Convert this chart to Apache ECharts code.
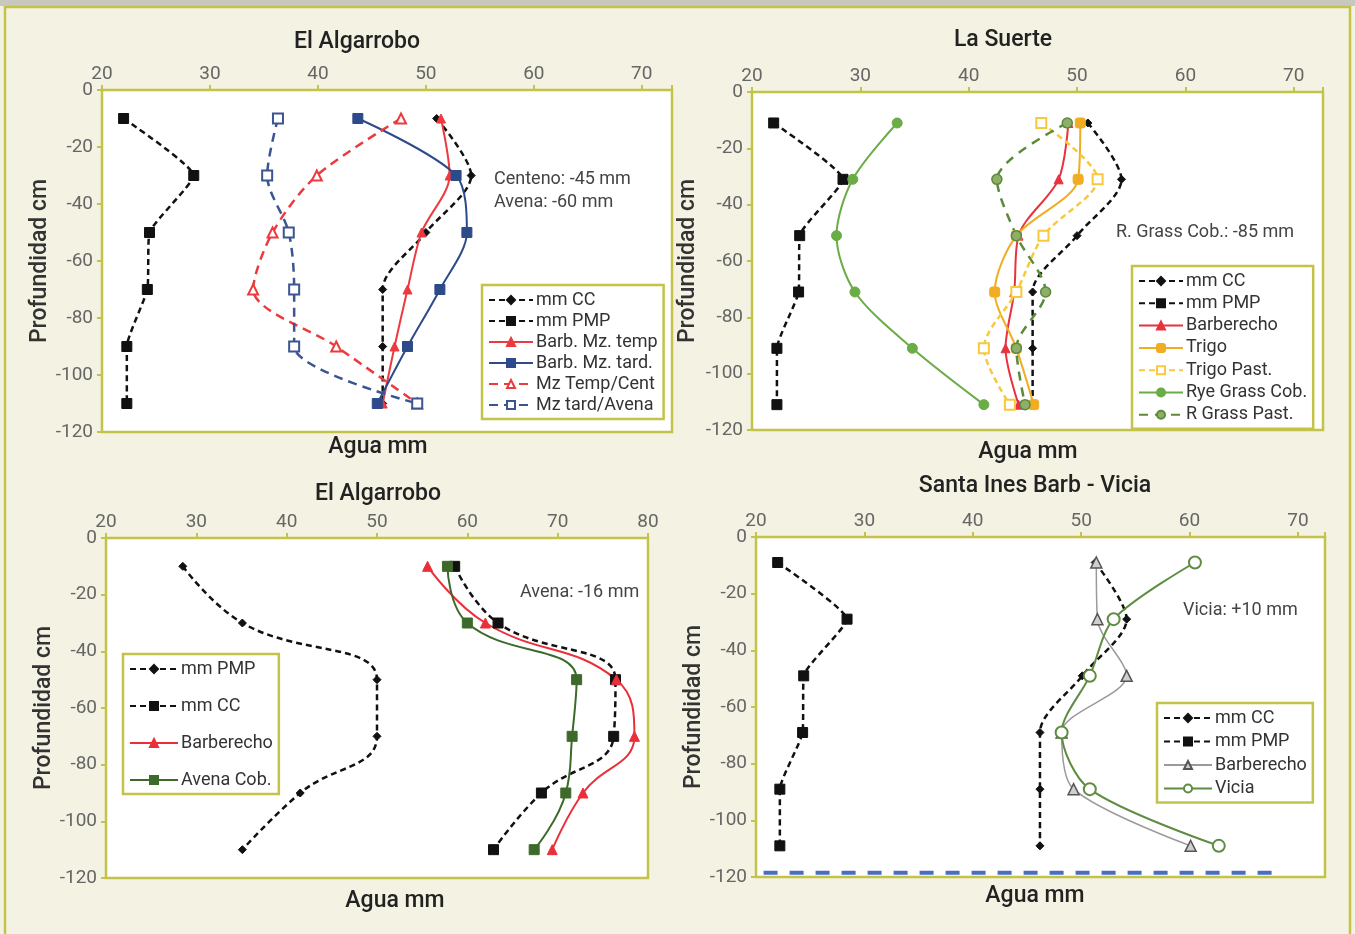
<!DOCTYPE html>
<html>
<head>
<meta charset="utf-8">
<script src="https://cdn.jsdelivr.net/npm/echarts@6/dist/echarts.min.js"></script>
<style>html,body{margin:0;padding:0;background:#f4f2e2;}#c{width:1355px;height:934px;}</style>
</head>
<body>
<div id="c"></div>
<script>
// ---------- DATA ----------
const depths1 = [-10, -30, -50, -70, -90, -110];
const depths2 = [-11, -31, -51, -71, -91, -111];
const depths3 = [-10, -30, -50, -70, -90, -110];
const depths4 = [-9, -29, -49, -69, -89, -109];
const xTicks = [20, 30, 40, 50, 60, 70, 80];
const yTicks = [0, -20, -40, -60, -80, -100, -120];

// Panel 1: El Algarrobo
const p1_cc        = [51.0, 54.2, 50.0, 46.0, 46.0, 46.0];
const p1_pmp       = [22.0, 28.5, 24.4, 24.2, 22.3, 22.3];
const p1_barbTemp  = [51.4, 52.2, 49.6, 48.3, 47.1, 46.0];
const p1_barbTard  = [43.7, 52.8, 53.8, 51.3, 48.3, 45.5];
const p1_mzTempCent= [47.7, 39.9, 35.8, 34.0, 41.7, 49.2];
const p1_mzTardAv  = [36.3, 35.3, 37.3, 37.8, 37.8, 49.2];

// Panel 2: La Suerte
const p2_cc        = [51.0, 54.1, 50.0, 45.9, 45.9, 45.9];
const p2_pmp       = [22.0, 28.4, 24.4, 24.3, 22.3, 22.3];
const p2_barb      = [49.2, 48.3, 44.6, 44.2, 43.4, 44.6];
const p2_trigo     = [50.3, 50.1, 44.4, 42.4, 44.4, 46.0];
const p2_trigoPast = [46.7, 51.9, 46.9, 44.4, 41.4, 43.8];
const p2_ryeCob    = [33.4, 29.3, 27.8, 29.5, 34.8, 41.4];
const p2_rgPast    = [49.1, 42.6, 44.4, 47.1, 44.4, 45.2];

// Panel 3: El Algarrobo
const p3_pmp       = [28.5, 35.1, 50.0, 50.0, 41.5, 35.1];
const p3_cc        = [58.6, 63.4, 76.4, 76.2, 68.2, 62.9];
const p3_barb      = [55.6, 62.0, 76.5, 78.5, 72.8, 69.4];
const p3_avena     = [57.8, 60.0, 72.1, 71.6, 70.9, 67.4];

// Panel 4: Santa Ines Barb - Vicia
const p4_cc        = [51.3, 54.2, 50.1, 46.2, 46.2, 46.2];
const p4_pmp       = [22.0, 28.4, 24.4, 24.3, 22.2, 22.2];
const p4_barb      = [51.4, 51.5, 54.2, 48.2, 49.3, 60.1];
const p4_vicia     = [60.5, 53.0, 50.8, 48.2, 50.8, 62.7];
const p4_lineX     = [20.7, 68.6];
const p4_lineY     = [-118.5, -118.5];

// ---------- STYLE ----------
const OLIVE = '#c3c34a';
const FONT = 'Roboto, "Noto Sans", sans-serif';
const grids = [
  {left:102, top:90,  width:570, height:342},
  {left:752, top:92,  width:571, height:338},
  {left:106, top:538, width:542, height:340},
  {left:756, top:537, width:569, height:340}
];
const xMax = [72.8, 72.7, 80, 72.5];
const nameGaps = [49, 52, 48, 45];

function pairs(xs, ys){ return xs.map((v,i)=>[v, ys[i]]); }

const xAxes = grids.map((g,i)=>({
  type:'value', gridIndex:i, position:'top', min:xTicks[0], max:xMax[i], interval:10,
  axisLine:{show:true, onZero:false, lineStyle:{color:OLIVE, width:2}},
  axisTick:{show:true, length:5, lineStyle:{color:OLIVE, width:2}},
  splitLine:{show:false},
  axisLabel:{color:'#666', fontSize:19, fontFamily:FONT, margin:6,
    formatter:v=> xTicks.indexOf(v)>=0 ? String(v) : ''}
}));
const yAxes = grids.map((g,i)=>({
  type:'value', gridIndex:i, min:yTicks[yTicks.length-1], max:yTicks[0], interval:20,
  axisLine:{show:true, onZero:false, lineStyle:{color:OLIVE, width:2}},
  axisTick:{show:true, length:5, lineStyle:{color:OLIVE, width:2}},
  splitLine:{show:false},
  axisLabel:{color:'#666', fontSize:19, fontFamily:FONT, margin:9},
  name:'Profundidad cm', nameLocation:'middle', nameRotate:90, nameGap:nameGaps[i],
  nameTextStyle:{color:'#333', fontSize:23, fontWeight:500, fontFamily:FONT}
}));

function S(name, xs, ys, gi, o){
  return {
    type:'line', name:name, xAxisIndex:gi, yAxisIndex:gi,
    data:pairs(xs, ys), smooth:o.smooth===undefined?0.3:o.smooth,
    symbol:o.symbol||'none', symbolSize:o.size||8, showSymbol:!!o.symbol,
    lineStyle:{color:o.color, width:o.width||2, type:o.dash||'solid'},
    itemStyle:{color:o.fill||o.color, borderColor:o.border||o.color, borderWidth:o.bw||1},
    z:o.z||2, animation:false, silent:true
  };
}
const dashB = [6,4];
const series = [
  // panel 1
  S('mm CC#1', p1_cc, depths1, 0, {color:'#111', dash:dashB, width:2.5, symbol:'diamond', size:8}),
  S('mm PMP#1', p1_pmp, depths1, 0, {color:'#111', dash:dashB, width:2.5, symbol:'rect', size:10, smooth:0.15}),
  S('Barb. Mz. temp#1', p1_barbTemp, depths1, 0, {color:'#ec3a3f', symbol:'triangle', size:9}),
  S('Barb. Mz. tard.#1', p1_barbTard, depths1, 0, {color:'#2d4a8a', symbol:'rect', size:10}),
  S('Mz Temp/Cent#1', p1_mzTempCent, depths1, 0, {color:'#ec3a3f', dash:[9,6], width:2.5, symbol:'triangle', size:10, fill:'#fff', bw:2}),
  S('Mz tard/Avena#1', p1_mzTardAv, depths1, 0, {color:'#3a5590', dash:[9,6], width:2.5, symbol:'rect', size:10, fill:'#fff', bw:2}),
  // panel 2
  S('mm CC#2', p2_cc, depths2, 1, {color:'#111', dash:dashB, width:2.5, symbol:'diamond', size:8}),
  S('mm PMP#2', p2_pmp, depths2, 1, {color:'#111', dash:dashB, width:2.5, symbol:'rect', size:10, smooth:0.15}),
  S('Barberecho#2', p2_barb, depths2, 1, {color:'#e8323d', symbol:'triangle', size:9}),
  S('Trigo#2', p2_trigo, depths2, 1, {color:'#f1ad22', symbol:'roundRect', size:10}),
  S('Trigo Past.#2', p2_trigoPast, depths2, 1, {color:'#f7c93c', dash:[6,4], width:2.5, symbol:'rect', size:10, fill:'#fff', bw:2}),
  S('Rye Grass Cob.#2', p2_ryeCob, depths2, 1, {color:'#6aac45', symbol:'circle', size:10}),
  S('R Grass Past.#2', p2_rgPast, depths2, 1, {color:'#5b8a3c', dash:[9,7], width:2.5, symbol:'circle', size:10, fill:'#8fae6a', bw:1.5}),
  // panel 3
  S('mm PMP#3', p3_pmp, depths3, 2, {color:'#111', dash:dashB, width:2.5, symbol:'diamond', size:8, smooth:0.45}),
  S('mm CC#3', p3_cc, depths3, 2, {color:'#111', dash:dashB, width:2.5, symbol:'rect', size:10, smooth:0.45}),
  S('Barberecho#3', p3_barb, depths3, 2, {color:'#ea2f3a', symbol:'triangle', size:10, smooth:0.45}),
  S('Avena Cob.#3', p3_avena, depths3, 2, {color:'#3d6a2a', symbol:'rect', size:10, smooth:0.45}),
  // panel 4
  S('mm CC#4', p4_cc, depths4, 3, {color:'#111', dash:dashB, width:2.5, symbol:'diamond', size:8}),
  S('mm PMP#4', p4_pmp, depths4, 3, {color:'#111', dash:dashB, width:2.5, symbol:'rect', size:10, smooth:0.15}),
  S('Barberecho#4', p4_barb, depths4, 3, {color:'#9a9a9a', width:1.5, symbol:'triangle', size:11, fill:'#cfcfcf', border:'#555', bw:1.5}),
  S('Vicia#4', p4_vicia, depths4, 3, {color:'#5e8c42', width:2, symbol:'circle', size:12, fill:'#fff', bw:2}),
  S('water#4', p4_lineX, p4_lineY, 3, {color:'#4a6cc2', width:4, dash:[14,12], smooth:false})
];

function legend(names, left, top, gap, iw){
  return {
    data:names, orient:'vertical', left:left, top:top, itemGap:gap,
    itemWidth:iw||44, itemHeight:10, padding:[6,6,5,6],
    backgroundColor:'#fff', borderColor:OLIVE, borderWidth:2.5, borderRadius:0,
    textStyle:{color:'#333', fontSize:18, fontFamily:FONT, padding:[0,0,0,-2]},
    formatter:n=>n.split('#')[0], selectedMode:false
  };
}
const legends = [
  legend(['mm CC#1','mm PMP#1','Barb. Mz. temp#1','Barb. Mz. tard.#1','Mz Temp/Cent#1','Mz tard/Avena#1'], 482, 285, 3),
  legend(['mm CC#2','mm PMP#2','Barberecho#2','Trigo#2','Trigo Past.#2','Rye Grass Cob.#2','R Grass Past.#2'], 1132, 266, 4.3),
  legend(['mm PMP#3','mm CC#3','Barberecho#3','Avena Cob.#3'], 123, 654, 19, 48),
  legend(['mm CC#4','mm PMP#4','Barberecho#4','Vicia#4'], 1157, 703, 5.5, 48)
];

function T(text, x, y, o){
  o = o||{};
  return {text:text, left:x, top:y, textAlign:o.align||'center', padding:0,
    textStyle:{color:o.color||'#222', fontSize:o.size||23, fontWeight:o.weight||500, fontFamily:FONT, lineHeight:o.lh}};
}
const note = {align:'left', size:18, weight:400, color:'#444'};
const titles = [
  T('El Algarrobo', 357, 31),
  T('La Suerte', 1003, 29),
  T('El Algarrobo', 378, 483),
  T('Santa Ines Barb - Vicia', 1035, 475),
  T('Agua mm', 378, 436),
  T('Agua mm', 1028, 441),
  T('Agua mm', 395, 890),
  T('Agua mm', 1035, 885),
  T('Centeno: -45 mm\nAvena: -60 mm', 494, 168, Object.assign({lh:23}, note)),
  T('R. Grass Cob.: -85 mm', 1116, 223, note),
  T('Avena: -16 mm', 520, 583, note),
  T('Vicia: +10 mm', 1183, 601, note)
];

const chart = echarts.init(document.getElementById('c'), null, {renderer:'canvas'});
chart.setOption({
  backgroundColor:'#f4f2e2',
  animation:false,
  textStyle:{fontFamily:FONT},
  graphic:[
    {type:'rect', shape:{x:0, y:0, width:1355, height:6}, style:{fill:'#c8c8c0'}, z:-10},
    {type:'rect', shape:{x:5, y:7, width:1345, height:940}, style:{fill:'none', stroke:OLIVE, lineWidth:2.5}, z:-10}
  ],
  title:titles,
  grid:grids.map(g=>Object.assign({show:true, backgroundColor:'#fff', borderColor:OLIVE, borderWidth:2.5}, g)),
  xAxis:xAxes,
  yAxis:yAxes,
  legend:legends,
  series:series
});
</script>
</body>
</html>
